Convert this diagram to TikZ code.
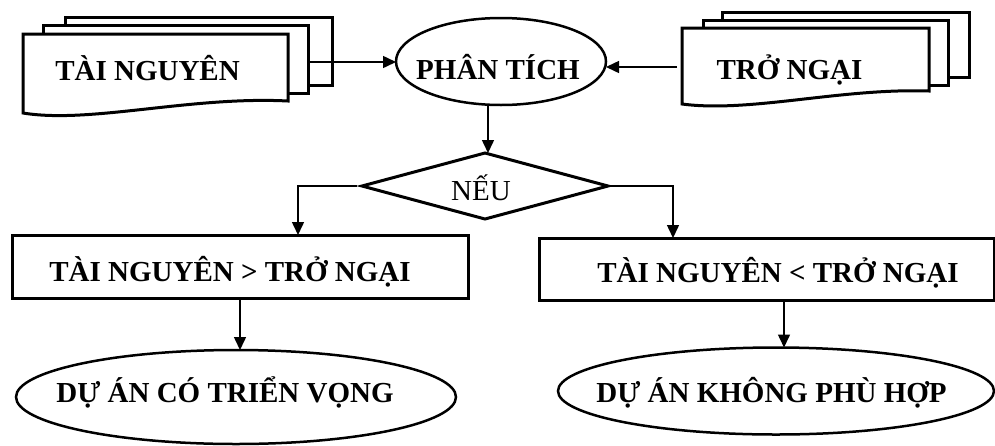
\documentclass[tikz,border=0pt]{standalone}
\usepackage{fontspec}
\setmainfont{Liberation Serif}
\usetikzlibrary{shapes.geometric,arrows.meta}
\begin{document}
\begin{tikzpicture}[x=1pt,y=-1pt,
  sheet/.style={draw,line width=3pt,fill=white,line join=miter},
  boxnode/.style={draw,line width=3pt,rectangle,inner sep=0pt,outer sep=0pt},
  ellnode/.style={draw,line width=2.5pt,ellipse,inner sep=0pt,outer sep=0pt},
  dianode/.style={draw,line width=3pt,diamond,inner sep=0pt,outer sep=0pt},
  lbl/.style={font=\fontsize{29}{34}\selectfont\bfseries,inner sep=0pt,anchor=base},
  lblr/.style={font=\fontsize{29}{34}\selectfont,inner sep=0pt,anchor=base},
  conn/.style={line width=1.5pt,-{Triangle[length=13pt,width=12pt]}}
]
\useasboundingbox (0,0) rectangle (995,445);

% left document stack
\draw[sheet] (65,17) rectangle (332,85);
\draw[sheet] (43,25) rectangle (308,93);
\draw[sheet] (23,113) -- (23,34) -- (288,34) -- (288,101)
  .. controls (190,96) and (90,124) .. (23,113) -- cycle;
\coordinate (resR) at (309,62);

% right document stack
\draw[sheet] (722,12) rectangle (969,77);
\draw[sheet] (703,20) rectangle (948,85);
\draw[sheet] (682,104) -- (682,28) -- (929,28) -- (929,91)
  .. controls (840,88) and (750,113) .. (682,104) -- cycle;
\coordinate (obsL) at (677,67);

% shapes
\node[ellnode,minimum width=210pt,minimum height=87pt] (ana) at (501,61.5) {};
\node[dianode,minimum width=246pt,minimum height=66pt] (ifd) at (485,186) {};
\node[boxnode,minimum width=456pt,minimum height=63pt] (gt) at (240,266.5) {};
\node[boxnode,minimum width=455pt,minimum height=62pt] (lt) at (766.5,269) {};
\node[ellnode,minimum width=440pt,minimum height=94pt] (good) at (236,397) {};
\node[ellnode,minimum width=436pt,minimum height=87pt] (bad) at (776,391) {};

% helper coordinates
\coordinate (dx) at (488,0);
\coordinate (lx) at (298,0);
\coordinate (rx) at (673,0);
\coordinate (bx) at (784,0);

% connectors
\draw[conn] (resR) -- (resR -| ana.west);
\draw[conn] (obsL) -- (obsL -| ana.east);
\draw[conn] (ana.south -| dx) -- (ifd.north -| dx);
\draw[conn] ([xshift=-5pt]ifd.west) -| (lx |- gt.north);
\draw[conn] (ifd.east) -| (rx |- lt.north);
\draw[conn] (gt.south) -- (gt.south |- good.north);
\draw[conn] (lt.south -| bx) -- (bad.north -| bx);

% texts
\node[lbl] (tRes) at (147.5,80) {TÀI NGUYÊN};
\node[lbl] (tObs) at (789.5,79) {TRỞ NGẠI};
\node[lbl] (tAna) at (498,79) {PHÂN TÍCH};
\node[lblr] (tIf) at (481,200) {NẾU};
\node[lbl] (tGt) at (230,281) {TÀI NGUYÊN > TRỞ NGẠI};
\node[lbl] (tLt) at (778,282) {TÀI NGUYÊN < TRỞ NGẠI};
\node[lbl] (tGood) at (225,402) {DỰ ÁN CÓ TRIỂN VỌNG};
\node[lbl] (tBad) at (771.5,402) {DỰ ÁN KHÔNG PHÙ HỢP};
\end{tikzpicture}
\end{document}
